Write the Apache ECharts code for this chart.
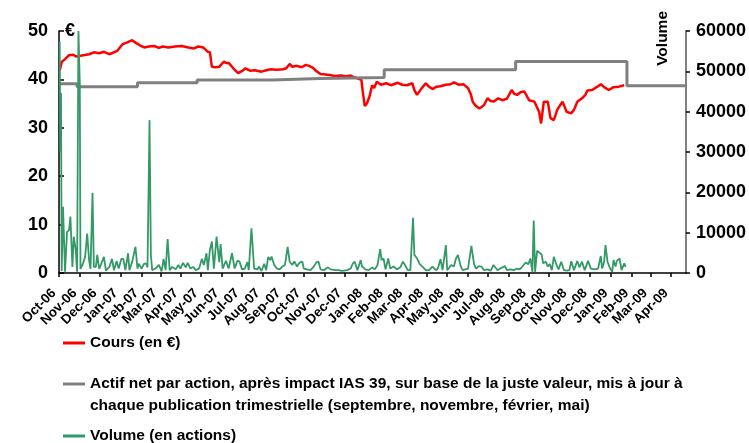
<!DOCTYPE html>
<html>
<head>
<meta charset="utf-8">
<script src="https://cdn.jsdelivr.net/npm/echarts@6/dist/echarts.min.js"></script>
<style>
html,body{margin:0;padding:0;background:#fff;}
#chart{width:749px;height:443px;}
</style>
</head>
<body>
<div id="chart"></div>
<script>
const axisStart = '2006-10-01';
const axisEnd = '2009-04-23';
const monthNames = ['Jan','Feb','Mar','Apr','May','Jun','Jul','Aug','Sep','Oct','Nov','Dec'];
const leftAxis = {min: 0, max: 50, interval: 10};
const rightAxis = {min: 0, max: 60000, interval: 10000};

const nameCours = 'Cours (en €)';
const nameActif = 'Actif net par action, après impact IAS 39, sur base de la juste valeur, mis à jour à chaque publication trimestrielle (septembre, novembre, février, mai)';
const actifLine1 = 'Actif net par action, après impact IAS 39, sur base de la juste valeur, mis à jour à';
const actifLine2 = 'chaque publication trimestrielle (septembre, novembre, février, mai)';
const nameVolume = 'Volume (en actions)';

const priceDates = ['2006-10-02','2006-10-05','2006-10-10','2006-10-16','2006-10-22','2006-10-27','2006-11-06','2006-11-15','2006-11-22','2006-11-30','2006-12-07','2006-12-15','2006-12-27','2007-01-04','2007-01-10','2007-01-18','2007-01-23','2007-01-29','2007-02-05','2007-02-12','2007-02-20','2007-02-27','2007-03-05','2007-03-13','2007-03-23','2007-04-02','2007-04-12','2007-04-20','2007-04-27','2007-05-04','2007-05-11','2007-05-14','2007-05-17','2007-05-22','2007-05-28','2007-06-04','2007-06-07','2007-06-11','2007-06-18','2007-06-25','2007-07-02','2007-07-06','2007-07-13','2007-07-20','2007-07-30','2007-08-06','2007-08-13','2007-08-22','2007-08-31','2007-09-05','2007-09-10','2007-09-14','2007-09-21','2007-09-28','2007-10-04','2007-10-09','2007-10-15','2007-10-19','2007-10-26','2007-11-02','2007-11-09','2007-11-16','2007-11-26','2007-12-03','2007-12-10','2007-12-14','2007-12-20','2007-12-26','2007-12-28','2007-12-31','2008-01-03','2008-01-07','2008-01-11','2008-01-14','2008-01-18','2008-01-24','2008-02-01','2008-02-08','2008-02-18','2008-02-25','2008-03-03','2008-03-11','2008-03-14','2008-03-18','2008-03-25','2008-03-31','2008-04-04','2008-04-10','2008-04-16','2008-04-22','2008-04-30','2008-05-07','2008-05-12','2008-05-19','2008-05-26','2008-06-02','2008-06-06','2008-06-09','2008-06-13','2008-06-19','2008-06-26','2008-07-01','2008-07-05','2008-07-10','2008-07-17','2008-07-23','2008-07-30','2008-08-06','2008-08-10','2008-08-14','2008-08-20','2008-08-25','2008-09-01','2008-09-09','2008-09-16','2008-09-19','2008-09-23','2008-09-29','2008-10-03','2008-10-08','2008-10-13','2008-10-17','2008-10-21','2008-10-27','2008-11-03','2008-11-07','2008-11-12','2008-11-19','2008-11-24','2008-11-27','2008-12-04','2008-12-12','2008-12-17','2008-12-23','2008-12-29','2009-01-05','2009-01-13','2009-01-21'];
const priceValues = [41.8,43.6,44.2,45.0,45.1,44.7,45.0,45.2,45.6,45.4,45.7,45.2,45.9,47.3,47.6,48.1,47.6,47.1,46.6,46.8,46.9,46.5,46.8,46.6,46.8,46.9,46.6,46.4,46.8,46.6,45.7,45.6,42.6,42.5,42.6,43.7,43.4,43.4,42.3,41.3,41.8,42.3,41.8,41.9,41.6,41.9,42.1,42.0,42.1,42.3,43.2,42.6,42.8,42.5,43.0,42.8,42.4,41.8,41.1,41.0,40.9,40.7,40.8,40.6,40.8,40.5,40.2,39.9,37.5,34.5,35.0,36.4,38.8,38.2,39.5,38.9,39.2,38.8,39.3,38.9,38.8,39.2,37.8,36.8,38.2,39.2,38.6,38.0,38.5,38.6,38.9,39.0,39.4,38.9,39.0,38.2,37.0,35.4,34.6,34.0,34.7,36.1,35.6,35.4,36.1,35.7,36.0,37.8,37.0,36.8,37.4,37.5,35.7,35.4,33.3,30.9,35.4,35.4,32.0,31.6,33.7,34.6,35.4,33.3,33.0,33.7,35.4,36.1,36.8,37.7,37.8,38.5,39.0,38.3,37.8,38.4,38.5,38.8];

const navDates = ['2006-10-01','2006-10-28','2007-01-26','2007-04-25','2007-08-15','2007-10-26','2008-01-29','2008-08-12','2009-01-25','2009-04-23'];
const navValues = [39.1,38.5,39.3,39.9,40.2,40.4,42.0,43.7,38.7,38.7];

const volumeDates = ['2006-10-02','2006-10-03','2006-10-04','2006-10-05','2006-10-07','2006-10-10','2006-10-13','2006-10-16','2006-10-18','2006-10-21','2006-10-23','2006-10-26','2006-10-28','2006-10-30','2006-11-01','2006-11-02','2006-11-05','2006-11-09','2006-11-12','2006-11-15','2006-11-17','2006-11-20','2006-11-22','2006-11-25','2006-11-27','2006-11-30','2006-12-02','2006-12-07','2006-12-10','2006-12-15','2006-12-19','2006-12-22','2006-12-26','2006-12-29','2007-01-02','2007-01-05','2007-01-08','2007-01-12','2007-01-14','2007-01-18','2007-01-23','2007-01-26','2007-01-28','2007-02-01','2007-02-05','2007-02-08','2007-02-10','2007-02-13','2007-02-15','2007-02-17','2007-02-22','2007-02-27','2007-03-03','2007-03-06','2007-03-09','2007-03-12','2007-03-15','2007-03-19','2007-03-24','2007-03-28','2007-03-31','2007-04-04','2007-04-08','2007-04-11','2007-04-15','2007-04-19','2007-04-23','2007-04-28','2007-05-02','2007-05-05','2007-05-09','2007-05-11','2007-05-14','2007-05-17','2007-05-20','2007-05-24','2007-05-28','2007-05-30','2007-06-02','2007-06-07','2007-06-11','2007-06-16','2007-06-20','2007-06-24','2007-06-27','2007-07-01','2007-07-05','2007-07-09','2007-07-11','2007-07-15','2007-07-19','2007-07-24','2007-07-26','2007-07-30','2007-08-03','2007-08-06','2007-08-09','2007-08-12','2007-08-14','2007-08-18','2007-08-22','2007-08-26','2007-08-30','2007-09-03','2007-09-07','2007-09-10','2007-09-14','2007-09-17','2007-09-21','2007-09-25','2007-09-29','2007-10-01','2007-10-06','2007-10-11','2007-10-16','2007-10-20','2007-10-23','2007-10-26','2007-10-31','2007-11-06','2007-11-10','2007-11-17','2007-11-22','2007-11-27','2007-12-05','2007-12-10','2007-12-13','2007-12-16','2007-12-20','2007-12-25','2007-12-27','2008-01-01','2008-01-06','2008-01-11','2008-01-15','2008-01-19','2008-01-23','2008-01-25','2008-01-28','2008-01-31','2008-02-04','2008-02-07','2008-02-12','2008-02-17','2008-02-22','2008-02-26','2008-03-01','2008-03-04','2008-03-08','2008-03-12','2008-03-14','2008-03-18','2008-03-22','2008-03-26','2008-03-31','2008-04-05','2008-04-10','2008-04-15','2008-04-18','2008-04-22','2008-04-25','2008-04-30','2008-05-02','2008-05-08','2008-05-12','2008-05-15','2008-05-18','2008-05-22','2008-05-25','2008-05-29','2008-06-02','2008-06-07','2008-06-11','2008-06-14','2008-06-18','2008-06-22','2008-06-26','2008-07-01','2008-07-06','2008-07-10','2008-07-16','2008-07-20','2008-07-27','2008-07-30','2008-08-04','2008-08-09','2008-08-14','2008-08-18','2008-08-22','2008-08-27','2008-08-31','2008-09-03','2008-09-06','2008-09-08','2008-09-10','2008-09-13','2008-09-17','2008-09-20','2008-09-22','2008-09-26','2008-09-29','2008-10-02','2008-10-05','2008-10-08','2008-10-12','2008-10-15','2008-10-19','2008-10-23','2008-10-28','2008-10-31','2008-11-03','2008-11-07','2008-11-12','2008-11-15','2008-11-19','2008-11-23','2008-11-28','2008-12-02','2008-12-08','2008-12-13','2008-12-17','2008-12-19','2008-12-22','2008-12-24','2008-12-27','2008-12-31','2009-01-03','2009-01-05','2009-01-08','2009-01-10','2009-01-14','2009-01-17','2009-01-21','2009-01-23'];
const volumeValues = [57400,30100,44600,500,16400,300,10200,10600,14000,1500,9000,5700,300,60000,47000,1000,2000,4000,9800,3000,1000,19900,1500,1500,4500,1000,800,4000,600,1500,3500,700,3000,1100,3500,3500,700,4900,700,2700,6500,1100,2300,1100,2300,2300,1400,37900,4500,700,1100,2000,400,3500,700,8400,700,1500,900,2000,1100,2500,1400,2500,1100,1500,700,1100,3500,2000,4900,700,5700,7800,1100,9000,2700,7200,1100,3000,1100,4900,1100,3000,2900,900,1100,2700,700,11100,1100,900,1600,500,2300,700,4000,3200,4100,2000,1100,900,1600,2000,6500,2800,2000,2900,1600,2600,2800,1100,900,700,1600,2700,2800,900,700,1400,900,700,700,500,700,1100,2300,2800,700,3200,1600,900,700,1400,900,2000,5900,3200,3600,900,3600,1100,1600,900,1400,2800,1700,700,700,13700,4500,3600,2200,1600,700,700,1600,700,1100,3400,700,6900,700,2000,1600,3600,4500,1700,700,900,1100,6700,2200,1100,1700,1600,700,900,600,2000,700,1100,1700,700,900,700,1100,900,1600,2600,2200,3600,300,13000,300,5500,5000,4500,2400,2800,1600,2200,700,4000,2000,900,2800,700,600,700,2900,700,3000,1400,2800,700,3000,1100,900,1100,4200,1100,2800,6900,2800,1100,300,3200,1600,3000,3600,700,2400,1500];

const pair = (d, v) => d.map((x, i) => [x, v[i]]);
const FONT = "'Liberation Sans', Arial, sans-serif";

const chart = echarts.init(document.getElementById('chart'), null, {renderer: 'canvas'});
const legendText = {fontFamily: FONT, fontWeight: 'bold', fontSize: 15.5, lineHeight: 22, color: '#000'};
const legendBase = {left: 63, padding: 0, icon: 'rect', itemWidth: 22, itemHeight: 3, itemGap: 4, textStyle: legendText};

chart.setOption({
  animation: false,
  backgroundColor: '#fff',
  grid: {left: 59, right: 63, top: 31, bottom: 170, containLabel: false},
  legend: [
    Object.assign({}, legendBase, {data: [nameCours], top: 332}),
    Object.assign({}, legendBase, {data: [nameActif], top: 351,
      formatter: function () { return ' \n' + actifLine1 + '\n' + actifLine2; }}),
    Object.assign({}, legendBase, {data: [nameVolume], top: 425})
  ],
  xAxis: {
    type: 'time',
    min: new Date(axisStart + 'T00:00:00').getTime(),
    max: new Date(axisEnd + 'T00:00:00').getTime(),
    splitNumber: 31,
    minInterval: 28 * 86400000,
    maxInterval: 31 * 86400000,
    axisLine: {show: true, lineStyle: {color: '#000', width: 1.5}},
    axisTick: {show: true, length: 4, lineStyle: {color: '#000', width: 1.5}},
    splitLine: {show: false},
    axisLabel: {
      rotate: 45, margin: 23, verticalAlign: 'bottom', fontFamily: FONT, fontWeight: 'bold', fontSize: 13.5, color: '#000',
      hideOverlap: false,
      formatter: function (v) {
        const d = new Date(v);
        if (d.getDate() !== 1) return '';
        return monthNames[d.getMonth()] + '-' + String(d.getFullYear()).slice(2);
      }
    }
  },
  yAxis: [
    {
      type: 'value', position: 'left', min: leftAxis.min, max: leftAxis.max, interval: leftAxis.interval,
      name: '€', nameLocation: 'end', nameGap: 0,
      nameTextStyle: {fontFamily: FONT, fontWeight: 'bold', fontSize: 18, color: '#000', align: 'left', verticalAlign: 'middle', padding: [0, 0, 0, 6]},
      axisLine: {show: true, lineStyle: {color: '#000', width: 1.5}},
      axisTick: {show: true, inside: true, length: 5, lineStyle: {color: '#000', width: 1.5}},
      splitLine: {show: false},
      axisLabel: {fontFamily: FONT, fontWeight: 'bold', fontSize: 18, color: '#000', margin: 11}
    },
    {
      type: 'value', position: 'right', min: rightAxis.min, max: rightAxis.max, interval: rightAxis.interval,
      axisLine: {show: true, lineStyle: {color: '#808080', width: 2}},
      axisTick: {show: true, length: 4, lineStyle: {color: '#000', width: 1.5}},
      splitLine: {show: false},
      axisLabel: {fontFamily: FONT, fontWeight: 'bold', fontSize: 18, color: '#000', margin: 10,
        formatter: function (v) { return String(v); }}
    }
  ],
  graphic: [
    {type: 'text', x: 671, y: 11, rotation: Math.PI / 2,
     style: {text: 'Volume', fontFamily: FONT, fontWeight: 'bold', fontSize: 15.5, fill: '#000', align: 'right', verticalAlign: 'bottom'}}
  ],
  series: [
    {name: nameCours, type: 'line', yAxisIndex: 0, showSymbol: false, symbol: 'none',
     data: pair(priceDates, priceValues), lineStyle: {color: '#FF0000', width: 2.5}, itemStyle: {color: '#FF0000'}, z: 2},
    {name: nameActif, type: 'line', yAxisIndex: 0, showSymbol: false, symbol: 'none', step: 'end',
     data: pair(navDates, navValues), lineStyle: {color: '#808080', width: 3}, itemStyle: {color: '#808080'}, z: 3},
    {name: nameVolume, type: 'line', yAxisIndex: 1, showSymbol: false, symbol: 'none',
     data: pair(volumeDates, volumeValues), lineStyle: {color: '#339966', width: 1.8}, itemStyle: {color: '#339966'}, z: 4}
  ]
});
</script>
</body>
</html>
